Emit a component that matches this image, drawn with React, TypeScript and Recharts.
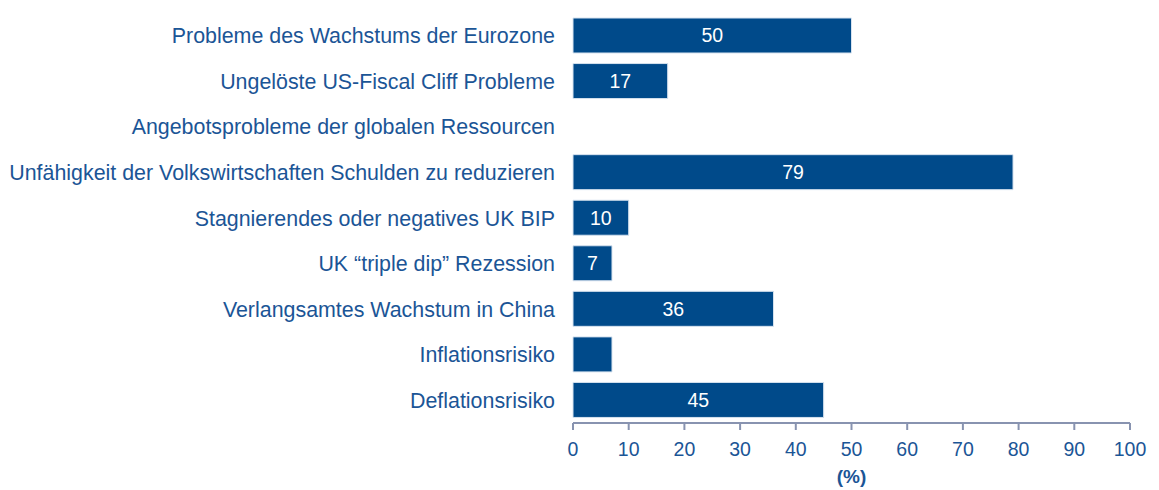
import { Bar, BarChart, LabelList, XAxis, YAxis } from "recharts"

const categories = [
  "Probleme des Wachstums der Eurozone",
  "Ungelöste US-Fiscal Cliff Probleme",
  "Angebotsprobleme der globalen Ressourcen",
  "Unfähigkeit der Volkswirtschaften Schulden zu reduzieren",
  "Stagnierendes oder negatives UK BIP",
  "UK \u201Ctriple dip\u201D Rezession",
  "Verlangsamtes Wachstum in China",
  "Inflationsrisiko",
  "Deflationsrisiko",
]
const values = [50, 17, 0, 79, 10, 7, 36, 7, 45]
// value labels as printed on the bars (blank where none is shown)
const barLabels = ["50", "17", "", "79", "10", "7", "36", "", "45"]
const xTicks = [0, 10, 20, 30, 40, 50, 60, 70, 80, 90, 100]
const boundaryTicks = [0, 1, 2, 3, 4, 5, 6, 7, 8, 9]

const data = categories.map((name, i) => ({
  name,
  value: values[i],
  label: barLabels[i],
}))

const BLUE = "#004a8a"
const TEXT = "#1b5596"
const AXIS = "#8893b0"
const FONT = "'Liberation Sans', Arial, sans-serif"

export default function App() {
  return (
    <div style={{ position: "absolute", left: 0, top: 0, width: 1159, height: 490, background: "#fff", fontFamily: FONT }}>
      <BarChart
        width={1159}
        height={490}
        data={data}
        layout="vertical"
        margin={{ top: 13, right: 29, bottom: 27, left: 0 }}
        barSize={35}
      >
        <XAxis
          type="number"
          domain={[0, 100]}
          ticks={xTicks}
          interval={0}
          stroke={AXIS}
          strokeWidth={2}
          tickSize={7}
          tickMargin={12}
          tick={{ fill: TEXT, fontSize: 19.5, fontFamily: FONT }}
          height={40}
        />
        <YAxis
          yAxisId="bounds"
          type="number"
          domain={[0, 9]}
          ticks={boundaryTicks}
          interval={0}
          width={0}
          tick={false}
          tickSize={7}
          stroke={AXIS}
          strokeWidth={2}
        />
        <YAxis
          yAxisId="cat"
          type="category"
          dataKey="name"
          width={573}
          axisLine={false}
          tickLine={false}
          tickMargin={12}
          interval={0}
          tick={{ fill: TEXT, fontSize: 21.4, fontFamily: FONT }}
        />
        <Bar
          yAxisId="cat"
          dataKey="value"
          fill={BLUE}
          stroke="#d6e2ef"
          strokeWidth={1}
          isAnimationActive={false}
        >
          <LabelList dataKey="label" position="center" fill="#fff" fontSize={19.5} fontFamily={FONT} />
        </Bar>
      </BarChart>
      <div
        style={{
          position: "absolute",
          left: 573,
          width: 557,
          top: 466,
          textAlign: "center",
          color: TEXT,
          fontWeight: "bold",
          fontSize: 19,
        }}
      >
        (%)
      </div>
    </div>
  )
}
